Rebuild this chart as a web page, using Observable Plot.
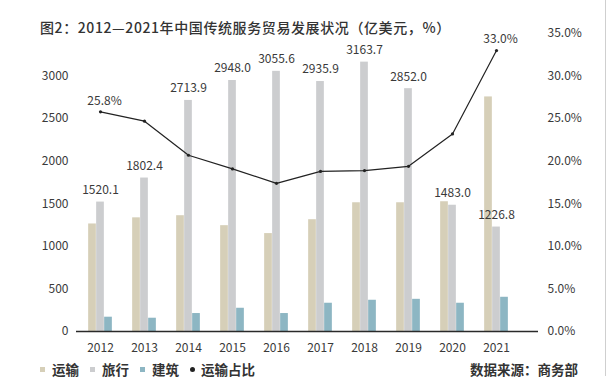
<!DOCTYPE html>
<html><head><meta charset="utf-8">
<script src="https://cdn.jsdelivr.net/npm/d3@7"></script>
<script src="https://cdn.jsdelivr.net/npm/@observablehq/plot@0.6"></script>
<style>
body{margin:0;background:#fff;font-family:"Noto Sans CJK SC","Noto Sans",sans-serif;}
#wrap{position:relative;width:608px;height:383px;overflow:hidden;background:#fff;}
#title{position:absolute;left:40px;top:18px;font-size:14px;letter-spacing:0.6px;color:#333;font-weight:500;white-space:nowrap;line-height:18px;text-spacing-trim:space-all;}
#legend{position:absolute;left:40px;top:359px;font-size:13.5px;color:#333;font-weight:bold;white-space:nowrap;line-height:20px;display:flex;align-items:center;}
#legend .sw{display:inline-block;width:5px;height:5px;margin-right:7px;}
#legend .it{display:inline-flex;align-items:center;margin-right:11px;}
#legend .dot{display:inline-block;width:5px;height:5px;border-radius:50%;background:#222;margin-right:6px;}
#source{position:absolute;left:470px;top:359px;font-size:13.5px;color:#333;font-weight:bold;white-space:nowrap;line-height:20px;}
#edge{position:absolute;left:605px;top:0;width:1px;height:376px;background:#cfcfcf;}
#chart{position:absolute;left:0;top:0;}
</style>
</head><body>
<div id="wrap">
<div id="chart"></div>
<div id="title">图2：2012—2021年中国传统服务贸易发展状况（亿美元，%）</div>
<div id="legend"></div>
<div id="source">数据来源：商务部</div>
<div id="edge"></div>
</div>
<script>
const years = ["2012","2013","2014","2015","2016","2017","2018","2019","2020","2021"];
const transport = [1263, 1335, 1360, 1243, 1150, 1313, 1512, 1512, 1524, 2755];
const travel = [1520.1, 1802.4, 2713.9, 2948.0, 3055.6, 2935.9, 3163.7, 2852.0, 1483.0, 1226.8];
const construction = [168, 156, 211, 273, 211, 332, 367, 378, 332, 402];
const transportShare = [25.8, 24.7, 20.7, 19.1, 17.4, 18.8, 18.9, 19.4, 23.2, 33.0];
const seriesNames = ["运输", "旅行", "建筑", "运输占比"];
const seriesColors = ["#d6cfb8", "#cccdcf", "#8db6c3", "#222222"];
const leftTicks = [0, 500, 1000, 1500, 2000, 2500, 3000];
const rightTicks = [0, 5, 10, 15, 20, 25, 30, 35];

const rows = years.map((y, i) => ({
  year: y, transport: transport[i], travel: travel[i],
  construction: construction[i], share: transportShare[i]
}));
const shareLabelled = rows.filter((d, i) => i === 0 || i === rows.length - 1);

const barW = 8;
const step = (519 - 76) / years.length;
const inset = (step - barW) / 2;
const font = {fontSize: 12, fill: "#3a3a3a"};

const chart = Plot.plot({
  width: 608, height: 383,
  marginTop: 33, marginBottom: 52, marginLeft: 76, marginRight: 70,
  style: {fontFamily: '"Noto Sans CJK SC","Noto Sans",sans-serif', fontSize: "12px", color: "#3a3a3a", background: "transparent"},
  x: {type: "band", domain: years, range: [76, 519], padding: 0},
  y: {domain: [0, 3500]},
  marks: [
    Plot.axisY({ticks: leftTicks, tickFormat: d => String(d), tickSize: 0, tickPadding: 8, label: null, ...font}),
    Plot.axisY({anchor: "right", ticks: rightTicks.map(d => d * 100), tickFormat: d => (d / 100).toFixed(1) + "%", tickSize: 0, tickPadding: 9, label: null, ...font}),
    Plot.axisX({tickSize: 0, tickPadding: 12, label: null, ...font}),
    Plot.barY(rows, {x: "year", y: "transport", fill: seriesColors[0], insetLeft: inset, insetRight: inset, dx: -barW}),
    Plot.barY(rows, {x: "year", y: "travel", fill: seriesColors[1], insetLeft: inset, insetRight: inset}),
    Plot.barY(rows, {x: "year", y: "construction", fill: seriesColors[2], insetLeft: inset, insetRight: inset, dx: barW}),
    Plot.ruleY([0], {stroke: "#2a2a2a", strokeWidth: 1.5}),
    Plot.line(rows, {x: "year", y: d => d.share * 100, stroke: seriesColors[3], strokeWidth: 1.2}),
    Plot.dot(rows, {x: "year", y: d => d.share * 100, r: 1.6, fill: seriesColors[3]}),
    Plot.text(rows, {x: "year", y: "travel", text: d => d.travel.toFixed(1), dy: -12, fontSize: 12, fill: "#3a3a3a"}),
    Plot.text(shareLabelled, {x: "year", y: d => d.share * 100, text: d => d.share.toFixed(1) + "%", dy: -11, dx: 4, fontSize: 12, fill: "#3a3a3a"})
  ]
});
document.getElementById("chart").appendChild(chart);

const legend = document.getElementById("legend");
seriesNames.forEach((name, i) => {
  const it = document.createElement("span");
  it.className = "it";
  const sw = document.createElement("span");
  if (i < 3) { sw.className = "sw"; sw.style.background = seriesColors[i]; }
  else { sw.className = "dot"; }
  it.appendChild(sw);
  it.appendChild(document.createTextNode(name));
  legend.appendChild(it);
});
</script>
</body></html>
